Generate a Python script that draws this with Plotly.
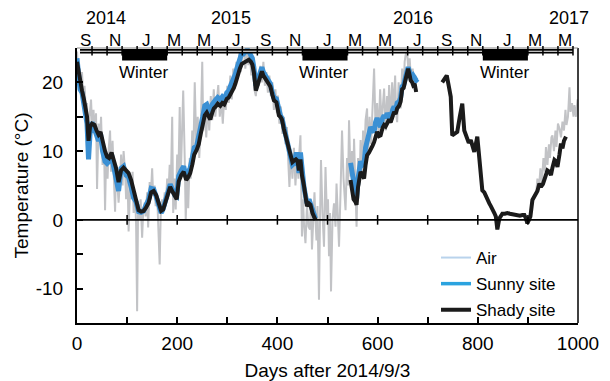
import plotly.graph_objects as go

# ---------------- data (days after 2014/9/3, temperature in degC) ----------------
shady_days_1 = [0, 3, 6, 10, 14, 17, 20, 23, 26, 30, 35, 39, 43, 47, 51, 56, 60, 64, 69, 73,
                78, 83, 88, 93, 98, 103, 108, 113, 118, 123, 128, 133, 138, 143, 148, 153, 158, 163, 168, 172,
                176, 181, 186, 190, 195, 199, 203, 208, 213, 218, 222, 226, 230, 234, 239, 243, 247, 251, 255, 259,
                263, 266, 270, 273, 277, 281, 286, 290, 294, 299, 303, 306, 310, 313, 316, 319, 322, 325, 329, 333,
                336, 340, 343, 347, 350, 353, 357, 360, 363, 366, 369, 372, 376, 379, 383, 386, 390, 393, 398, 403,
                406, 409, 413, 416, 419, 421, 424, 426, 430, 433, 437, 440, 443, 446, 449, 453, 456, 459, 463, 466,
                470, 474, 476]
shady_temp_1 = [23.0, 21.5, 19.8, 18.8, 17.5, 16.0, 15.0, 11.5, 13.5, 14.0, 13.8, 13.0, 12.4, 12.8, 11.2, 10.0, 9.2, 9.0, 9.8, 8.8,
                7.5, 5.5, 7.2, 7.6, 7.2, 6.8, 5.8, 4.2, 3.0, 1.4, 1.2, 1.3, 1.8, 2.5, 4.0, 4.2, 3.6, 2.4, 1.3, 1.5,
                2.4, 3.8, 4.8, 4.2, 3.6, 3.0, 5.6, 6.5, 7.0, 5.8, 6.2, 6.8, 8.0, 9.5, 10.2, 11.0, 12.5, 14.0, 15.2, 15.6,
                15.0, 14.6, 15.6, 16.2, 16.5, 16.9, 16.6, 17.0, 16.8, 17.6, 17.8, 18.2, 18.7, 19.2, 19.8, 20.6, 21.4, 22.0, 22.7, 22.9,
                23.1, 23.2, 23.3, 23.0, 22.6, 21.5, 18.8, 19.5, 20.2, 21.2, 21.6, 21.0, 20.6, 20.2, 19.8, 19.4, 18.2, 17.4, 17.1, 15.2,
                15.0, 14.6, 13.2, 12.3, 11.5, 10.8, 10.0, 9.4, 8.4, 8.6, 8.8, 8.6, 7.2, 8.8, 6.5, 5.0, 3.2, 2.0, 2.4, 2.2,
                1.0, 0.2, 0.0]
sunny_temp_1 = [23.5, 21.0, 19.0, 18.5, 17.0, 15.5, 14.0, 8.8, 12.5, 14.2, 13.2, 12.0, 11.5, 12.5, 10.0, 8.5, 8.2, 8.5, 9.5, 7.8,
                6.0, 4.2, 7.5, 7.8, 6.5, 6.2, 4.8, 3.2, 2.6, 1.2, 1.1, 1.3, 2.2, 3.0, 4.6, 4.5, 3.4, 2.0, 1.0, 1.6,
                2.8, 4.4, 5.2, 4.5, 3.6, 3.4, 6.4, 7.2, 7.8, 6.2, 7.0, 7.6, 9.0, 10.5, 10.8, 12.0, 13.5, 15.0, 16.6, 16.8,
                16.0, 15.4, 16.8, 17.2, 17.5, 17.8, 17.5, 17.9, 17.6, 18.5, 18.8, 19.4, 20.0, 20.5, 21.2, 22.0, 22.8, 23.6, 24.3, 24.2,
                24.6, 24.8, 24.5, 24.0, 23.5, 22.2, 19.5, 20.2, 21.0, 22.0, 22.2, 21.5, 21.0, 20.8, 20.2, 19.8, 18.5, 17.8, 17.6, 15.5,
                15.2, 14.8, 13.5, 12.0, 11.0, 10.2, 9.4, 8.8, 8.0, 8.2, 9.5, 9.5, 6.8, 9.8, 6.5, 4.8, 3.6, 2.4, 3.0, 2.4,
                1.2, 0.4, 0.2]

shady_days_2 = [546, 549, 552, 556, 558, 561, 564, 566, 570, 573, 576, 579, 583, 586, 590, 593, 596, 599, 603, 606,
                610, 613, 616, 619, 623, 626, 630, 633, 636, 639, 643, 646, 649, 652, 656, 659, 661, 664, 666, 669,
                671, 674, 677]
shady_temp_2 = [5.8, 4.5, 3.0, 2.6, 2.2, 4.8, 6.2, 7.0, 6.5, 6.0, 8.0, 9.4, 9.8, 10.4, 10.8, 11.3, 12.0, 12.8, 12.2, 12.3,
                13.4, 13.8, 13.6, 14.2, 14.6, 14.2, 15.0, 15.7, 15.4, 16.2, 16.6, 17.2, 19.0, 19.2, 20.5, 21.2, 22.0, 21.0, 20.3, 20.0,
                19.6, 19.8, 18.6]
sunny_days_2 = [546, 549, 552, 556, 558, 561, 564, 566, 570, 573, 576, 579, 583, 586, 590, 593, 596, 599, 603, 606,
                610, 613, 616, 619, 623, 626, 630, 633, 636, 639, 643, 646, 649, 652, 656, 659, 661, 664, 666, 669,
                671, 674, 677, 680]
sunny_temp_2 = [8.3, 7.0, 5.5, 3.5, 3.0, 6.0, 7.5, 8.5, 8.0, 8.2, 10.5, 11.4, 12.5, 13.5, 13.0, 12.8, 14.2, 14.8, 14.0, 13.5,
                14.8, 15.2, 14.8, 15.5, 15.0, 14.6, 16.0, 16.5, 16.0, 17.0, 17.2, 17.8, 19.4, 19.6, 20.8, 21.5, 22.2, 21.5, 21.0, 20.8,
                21.0, 20.6, 20.3, 20.5]

shady_days_3 = [729, 733, 738, 742, 746, 749, 753, 759, 764, 769, 773, 778, 782, 786, 790, 793, 796, 799, 803, 806,
                809, 813, 816, 819, 823, 826, 829, 833, 836, 839, 843, 846, 849, 854, 859, 864, 869, 874, 879, 884,
                889, 893, 896, 899, 902, 905, 909, 912, 916, 919, 923, 926, 930, 933, 936, 939, 943, 946, 949, 953,
                956, 959, 963, 966, 969, 972, 976]
shady_temp_3 = [20.0, 20.5, 21.0, 19.5, 17.9, 12.3, 12.5, 12.8, 15.0, 16.9, 13.0, 11.8, 11.2, 11.6, 10.6, 9.9, 11.0, 12.1, 9.0, 6.8,
                4.3, 4.0, 3.4, 3.0, 2.4, 2.0, 1.4, 1.0, 0.5, -1.4, 0.2, 0.6, 0.9, 0.9, 1.0, 0.9, 0.8, 0.8, 0.7, 0.6,
                0.7, 0.7, 0.2, -0.5, 0.0, 0.5, 2.9, 3.3, 3.9, 4.2, 5.3, 4.8, 5.2, 6.0, 6.5, 7.2, 7.0, 6.5, 7.6, 8.7,
                8.5, 7.7, 9.5, 11.1, 10.4, 11.5, 12.1]

air_days_1 = [0, 3, 5, 8, 10, 13, 15, 18, 20, 23, 25, 28, 30, 33, 35, 38, 40, 43, 46, 48,
              51, 54, 56, 58, 61, 63, 66, 68, 71, 73, 76, 78, 81, 83, 86, 88, 91, 93, 96, 98,
              101, 103, 106, 108, 111, 113, 116, 118, 120, 122, 125, 127, 130, 132, 135, 137, 140, 142, 145, 147,
              150, 152, 155, 157, 160, 162, 165, 167, 170, 172, 175, 177, 180, 182, 185, 187, 190, 192, 195, 197,
              200, 202, 205, 207, 210, 212, 215, 217, 220, 222, 225, 227, 230, 232, 235, 238, 241, 244, 247, 250,
              252, 255, 258, 261, 264, 267, 270, 273, 276, 279, 282, 285, 288, 291, 294, 297, 300, 303, 306, 309,
              312, 315, 318, 321, 324, 327, 330, 333, 336, 339, 342, 345, 348, 351, 354, 357, 360, 363, 366, 369,
              372, 375, 378, 381, 384, 387, 390, 393, 396, 399, 401, 404, 407, 410, 413, 416, 419, 422, 424, 427,
              430, 433, 436, 439, 442, 444, 446, 449, 451, 453, 456, 459, 462, 465, 467, 469, 472, 474, 476, 478,
              480, 483, 485, 487, 490, 493, 496, 499, 501, 503, 505, 507, 510, 513, 516, 518, 521, 523, 526, 529,
              532, 534, 536, 539, 541, 543, 546, 549, 551, 553, 556, 558, 561, 564, 566, 569, 571, 573, 576, 579,
              581, 584, 587, 590, 593, 596, 599, 602, 605, 608, 611, 613, 616, 619, 621, 623, 626, 629, 632, 635,
              637, 639, 642, 644, 646, 649, 652, 654, 656, 659, 662, 664, 667, 670, 673, 676]
air_temp_1 = [24.5, 21.0, 22.0, 19.0, 21.5, 17.0, 19.5, 15.5, 17.0, 9.0, 15.0, 17.5, 14.0, 16.0, 13.0, 15.5, 4.5, 14.0, 12.0, 15.0,
              8.0, 11.0, 1.4, 9.0, 6.0, 10.0, 13.0, 7.0, 11.5, 6.0, 1.2, 8.0, 4.0, 2.5, 6.0, 9.5, 5.0, 10.0, 7.0, 3.0,
              6.0, -1.7, 5.0, 3.0, 7.0, 1.0, 4.0, -1.0, -13.3, 2.0, 0.0, 3.0, -2.6, 1.0, 2.5, 0.5, 4.0, -1.1, 5.5, 3.0,
              7.5, 3.5, 5.0, 2.0, 3.5, 0.0, -6.5, 0.5, 3.0, 1.0, 4.0, 2.0, 6.0, 3.0, 8.0, 4.0, 15.0, 1.0, 6.0, 1.5,
              9.5, 5.0, 16.4, 6.0, 12.0, 18.8, 9.0, 0.0, 7.0, 1.7, 9.0, 6.0, 13.0, 8.0, 20.0, 11.0, 15.0, 9.0, 13.5, 23.0,
              13.0, 16.0, 12.0, 17.0, 13.0, 18.0, 14.5, 19.0, 15.0, 18.0, 19.6, 15.0, 17.5, 14.0, 18.0, 16.0, 19.5, 17.0, 21.0, 17.5,
              22.0, 19.0, 23.0, 20.5, 24.5, 21.5, 24.0, 24.5, 22.0, 25.0, 22.5, 24.0, 21.0, 23.0, 19.0, 18.0, 21.0, 19.5, 22.4, 20.0,
              23.0, 19.5, 21.5, 18.5, 21.0, 18.0, 20.0, 16.0, 19.0, 15.5, 18.1, 14.0, 16.5, 12.5, 15.0, 11.0, 13.5, 8.0, 4.8, 10.0,
              6.0, 10.5, 5.0, 9.0, 6.0, 10.0, 12.3, -2.4, 3.0, -0.5, -3.4, 2.0, -1.0, -1.4, 3.0, -4.3, 1.0, 4.0, 0.0, -3.0,
              2.0, -11.6, 0.0, 8.7, 1.0, -3.9, 7.7, 0.0, 3.0, -5.3, 1.0, -10.4, 0.0, 2.4, -1.0, 5.3, 0.0, -3.9, 4.0, 13.0,
              6.0, 3.0, 1.4, 9.0, 5.0, 14.5, 6.3, 10.0, 3.0, 11.8, 4.0, -1.0, 9.0, 5.0, 11.6, 7.0, 13.0, 8.4, 14.5, 16.2,
              9.0, 15.0, 11.0, 18.0, 22.0, 13.0, 17.0, 12.0, 19.0, 14.0, 18.0, 19.1, 13.0, 18.0, 15.0, 19.6, 14.0, 20.0, 16.0, 21.0,
              15.5, 14.2, 20.0, 17.0, 16.2, 22.0, 19.0, 23.0, 24.0, 24.5, 21.0, 23.5, 20.0, 22.0, 19.5, 21.0]
air_days_2 = [916, 919, 922, 925, 928, 931, 934, 936, 939, 942, 944, 947, 949, 952, 955, 957, 960, 963, 966, 969,
              972, 975, 977, 980, 983, 985, 988, 991, 993, 996, 999, 1000]
air_temp_2 = [3.5, 6.0, 4.5, 7.5, 5.5, 9.0, 7.0, 10.6, 8.0, 11.0, 9.0, 12.0, 12.3, 10.0, 13.0, 10.6, 14.0, 13.3, 12.0, 14.3,
              13.0, 16.0, 13.8, 15.0, 19.3, 15.7, 17.0, 15.0, 16.7, 15.0, 17.5, 17.4]

month_labels = ["S", "N", "J", "M", "M", "J", "S", "N", "J", "M", "M", "J", "S", "N", "J", "M", "M"]
month_tick_days = [30 + 30 * i for i in range(33)]          # top time axis ticks (one per month)
year_labels = ["2014", "2015", "2016", "2017"]
year_label_days = [58, 308, 670, 982]
winter_starts = [90, 450, 810]
winter_ends = [180, 540, 900]

# ---------------- layout geometry ----------------
L, R, T, B = 77, 32, 48, 58
W, H = 610, 381
PH = H - T - B


def py(pix):
    """pixel row -> paper y"""
    return (H - B - pix) / PH


def join(*segs):
    xs, ys = [], []
    for i, (a, b) in enumerate(segs):
        if i:
            xs.append(None)
            ys.append(None)
        xs += a
        ys += b
    return xs, ys


FONT = "Liberation Sans, Arial, sans-serif"
AIR_C = "#c2c3c6"
SUNNY_C = "#3b90d4"
SHADY_C = "#1b1b1b"

fig = go.Figure()

ax, ay = join((air_days_1, air_temp_1), (air_days_2, air_temp_2))
fig.add_trace(go.Scatter(x=ax, y=ay, mode="lines", line=dict(color=AIR_C, width=2),
                         showlegend=False, hoverinfo="skip"))
sx, sy = join((shady_days_1, sunny_temp_1), (sunny_days_2, sunny_temp_2))
fig.add_trace(go.Scatter(x=sx, y=sy, mode="lines", line=dict(color=SUNNY_C, width=5),
                         showlegend=False, hoverinfo="skip"))
hx, hy = join((shady_days_1, shady_temp_1), (shady_days_2, shady_temp_2), (shady_days_3, shady_temp_3))
fig.add_trace(go.Scatter(x=hx, y=hy, mode="lines", line=dict(color=SHADY_C, width=4),
                         showlegend=False, hoverinfo="skip"))

# legend entries
for name, col, wd in [("Air", "#b9d3ec", 2), ("Sunny site", "#2ba3df", 3.5), ("Shady site", SHADY_C, 4)]:
    fig.add_trace(go.Scatter(x=[None], y=[None], mode="lines", name=name, legendgroup=name,
                             line=dict(color=col, width=wd)))

shapes = []
# zero line with crossing ticks
shapes.append(dict(type="line", xref="x", yref="y", x0=0, x1=1000, y0=0, y1=0,
                   line=dict(color="black", width=1.6)))
for d in range(100, 1000, 100):
    shapes.append(dict(type="line", xref="x", yref="y", x0=d, x1=d, y0=-0.7, y1=0.7,
                       line=dict(color="black", width=1.5)))
# frame: right border + thin top
shapes.append(dict(type="line", xref="paper", yref="paper", x0=1, x1=1, y0=0, y1=1.0,
                   line=dict(color="black", width=1.5)))
shapes.append(dict(type="line", xref="paper", yref="paper", x0=0, x1=1, y0=1, y1=1,
                   line=dict(color="#888888", width=1)))
# timeline (double line) on top
shapes.append(dict(type="line", xref="x", yref="paper", x0=6, x1=990, y0=py(51.2), y1=py(51.2),
                   line=dict(color="black", width=4.5)))
shapes.append(dict(type="line", xref="x", yref="paper", x0=6, x1=990, y0=py(51.2), y1=py(51.2),
                   line=dict(color="white", width=1.1)))
for d in month_tick_days:
    shapes.append(dict(type="line", xref="x", yref="paper", x0=d, x1=d, y0=py(46), y1=py(55.5),
                       line=dict(color="black", width=1.5)))
for s, e in zip(winter_starts, winter_ends):
    shapes.append(dict(type="rect", xref="x", yref="paper", x0=s, x1=e, y0=py(60.5), y1=py(49.5),
                       line=dict(width=0), fillcolor="black"))

ann = []
for i, lab in enumerate(month_labels):
    ann.append(dict(x=month_tick_days[2 * i] + 2, y=py(40), xref="x", yref="paper", text=lab,
                    showarrow=False, xanchor="right", yanchor="middle",
                    font=dict(family=FONT, size=17, color="black")))
for lab, d in zip(year_labels, year_label_days):
    ann.append(dict(x=d, y=py(18), xref="x", yref="paper", text=lab, showarrow=False,
                    xanchor="center", yanchor="middle", font=dict(family=FONT, size=18, color="black")))
for s, e in zip(winter_starts, winter_ends):
    ann.append(dict(x=(s + e) / 2 - 2, y=py(72), xref="x", yref="paper", text="Winter", showarrow=False,
                    xanchor="center", yanchor="middle", font=dict(family=FONT, size=17, color="black")))

fig.update_layout(
    width=W, height=H,
    margin=dict(l=L, r=R, t=T, b=B, pad=0),
    paper_bgcolor="white", plot_bgcolor="white",
    font=dict(family=FONT, size=19, color="black"),
    shapes=shapes, annotations=ann,
    legend=dict(x=(436 - L) / (W - L - R), y=py(240), xanchor="left", yanchor="top",
                bgcolor="rgba(0,0,0,0)", font=dict(family=FONT, size=17),
                tracegroupgap=1, borderwidth=0),
    xaxis=dict(range=[0, 1000], showgrid=False, zeroline=False, showline=True, linecolor="black",
               linewidth=2, ticks="inside", ticklen=6, tickwidth=1.5, tickcolor="black",
               tickvals=list(range(0, 1001, 100)),
               ticktext=[str(v) if v % 200 == 0 else "" for v in range(0, 1001, 100)],
               ticklabelstandoff=2, automargin=False,
               title=dict(text="Days after 2014/9/3", standoff=14, font=dict(size=19))),
    yaxis=dict(range=[-15, 25], showgrid=False, zeroline=False, showline=True, linecolor="black",
               linewidth=2, ticks="inside", ticklen=6, tickwidth=1.5, tickcolor="black",
               tickvals=[-10, -5, 0, 5, 10, 15, 20],
               ticktext=["-10", "", "0", "", "10", "", "20"],
               ticklabelstandoff=8, automargin=False,
               title=dict(text="Temperature (\u00b0C)", standoff=2, font=dict(size=19))),
)

fig.write_html("out.html")
